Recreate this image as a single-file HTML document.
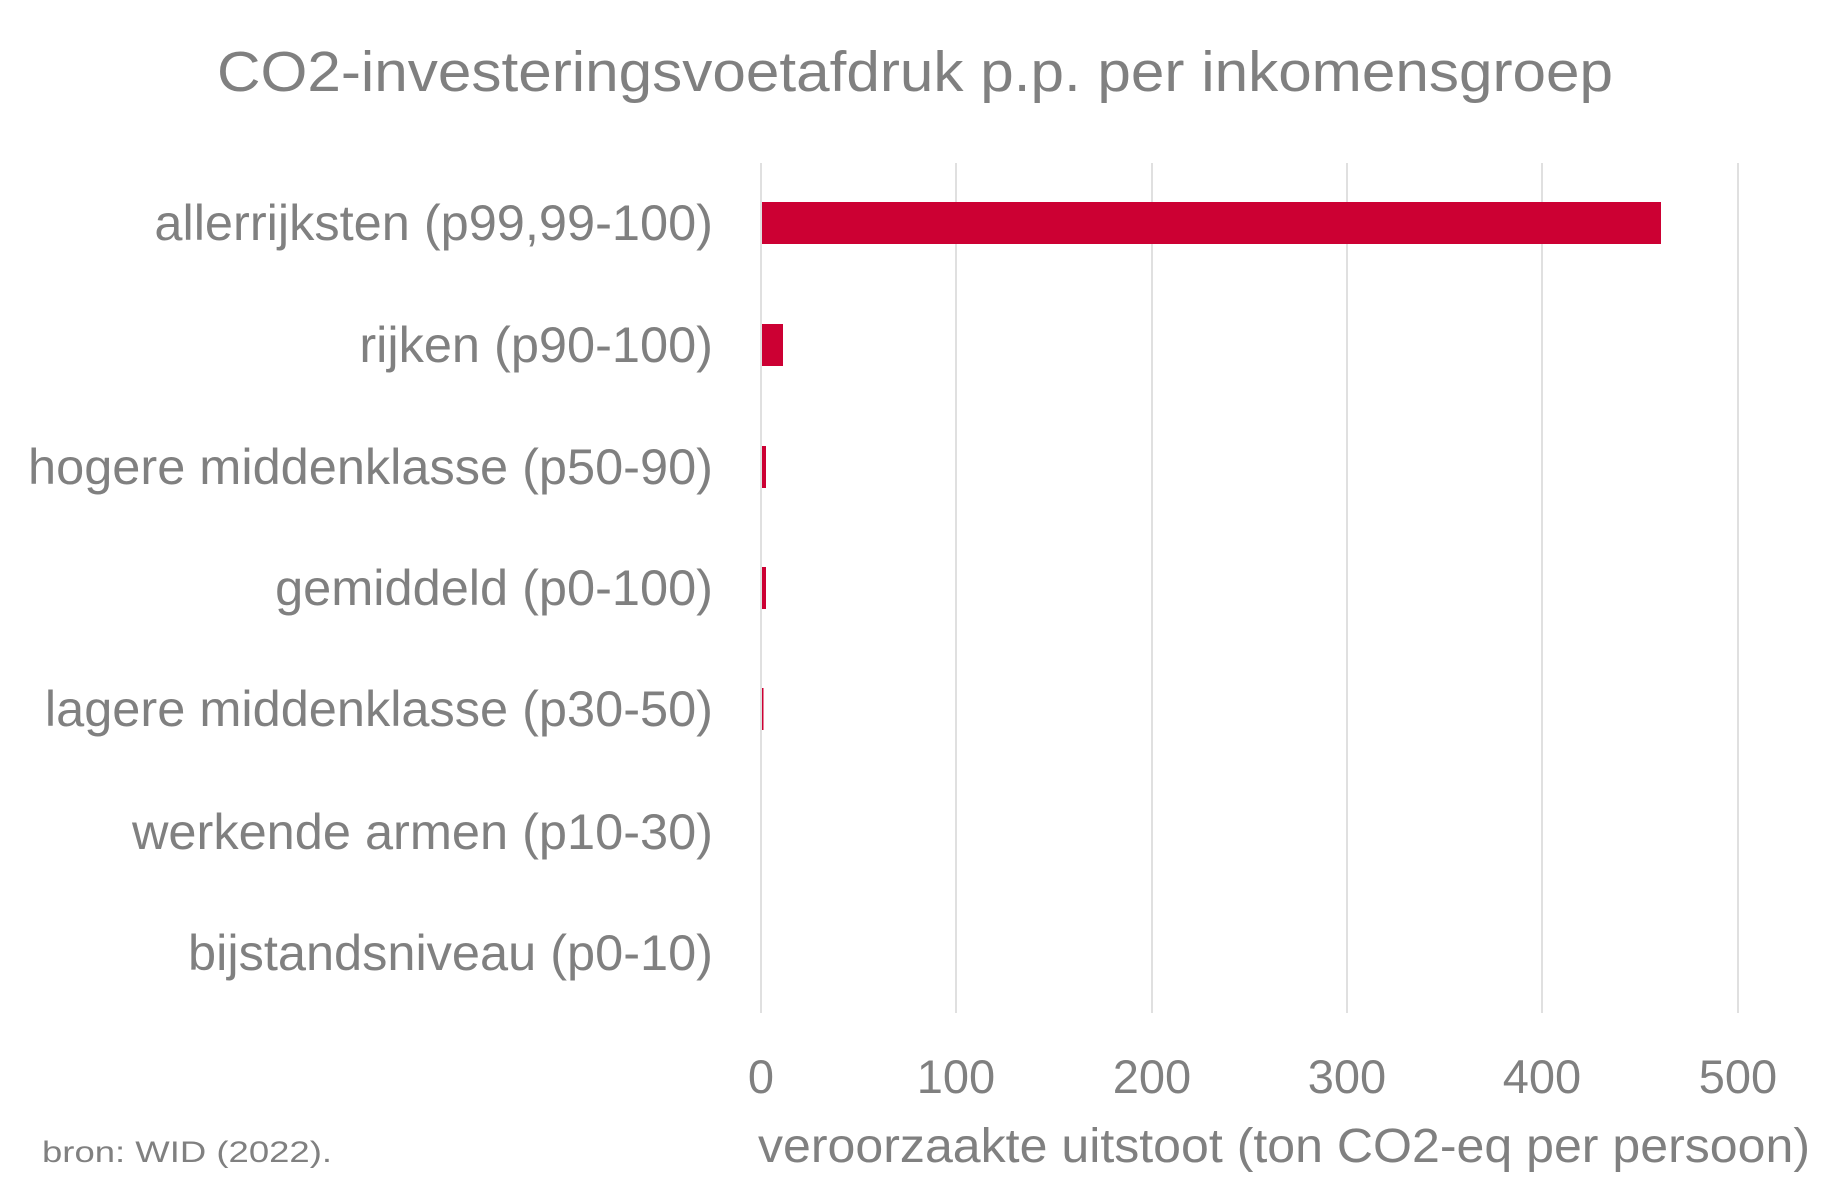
<!DOCTYPE html>
<html><head><meta charset="utf-8"><style>html,body{margin:0;padding:0;background:#fff}svg{display:block}</style></head>
<body>
<svg width="1829" height="1189" viewBox="0 0 1829 1189" xmlns="http://www.w3.org/2000/svg" font-family="Liberation Sans, Arial, sans-serif" fill="#808080">
<text x="915" y="91" font-size="57" text-anchor="middle" textLength="1396" lengthAdjust="spacingAndGlyphs">CO2-investeringsvoetafdruk p.p. per inkomensgroep</text>
<g stroke="#e0e0e0" stroke-width="2">
<line x1="761" y1="163" x2="761" y2="1013"/>
<line x1="956" y1="163" x2="956" y2="1013"/>
<line x1="1152" y1="163" x2="1152" y2="1013"/>
<line x1="1347" y1="163" x2="1347" y2="1013"/>
<line x1="1542" y1="163" x2="1542" y2="1013"/>
<line x1="1738" y1="163" x2="1738" y2="1013"/>
</g>
<g fill="#cc0033">
<rect x="762" y="202" width="899" height="42"/>
<rect x="762" y="324" width="21" height="42"/>
<rect x="762" y="446" width="4" height="42"/>
<rect x="762" y="567" width="4" height="42"/>
<rect x="762" y="688" width="1.5" height="42"/>
</g>
<g font-size="50.5" text-anchor="end">
<text x="713" y="240">allerrijksten (p99,99-100)</text>
<text x="713" y="362">rijken (p90-100)</text>
<text x="713" y="484">hogere middenklasse (p50-90)</text>
<text x="713" y="605">gemiddeld (p0-100)</text>
<text x="713" y="726">lagere middenklasse (p30-50)</text>
<text x="713" y="849">werkende armen (p10-30)</text>
<text x="713" y="970">bijstandsniveau (p0-10)</text>
</g>
<g font-size="47" text-anchor="middle">
<text x="761" y="1093">0</text>
<text x="956" y="1093">100</text>
<text x="1152" y="1093">200</text>
<text x="1347" y="1093">300</text>
<text x="1542" y="1093">400</text>
<text x="1738" y="1093">500</text>
</g>
<text x="758" y="1162" font-size="48" textLength="1052" lengthAdjust="spacingAndGlyphs">veroorzaakte uitstoot (ton CO2-eq per persoon)</text>
<text x="42" y="1162" font-size="30" textLength="290" lengthAdjust="spacingAndGlyphs">bron: WID (2022).</text>
</svg>
</body></html>
